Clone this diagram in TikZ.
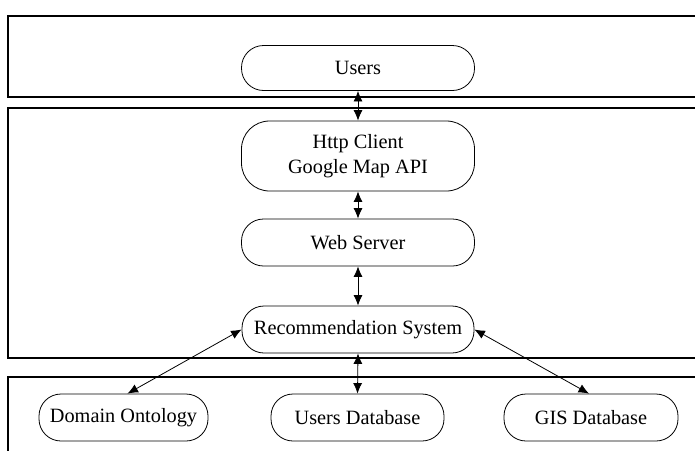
\documentclass[tikz,border=0pt]{standalone}
\usepackage{fontspec}
\setmainfont{Liberation Serif}
\usetikzlibrary{arrows.meta}
\begin{document}
\begin{tikzpicture}[x=1pt,y=-1pt,
  layer/.style={draw=black,line width=1.2pt},
  comp/.style={draw=black,line width=0.8pt,rounded corners=22pt,minimum width=233pt,minimum height=47pt,inner sep=0pt,align=center,font=\fontsize{20.3}{25}\selectfont},
  link/.style={line width=0.8pt,{Latex[length=10.5pt,width=9pt]}-{Latex[length=10.5pt,width=9pt]}}]
\useasboundingbox (0,0) rectangle (695,450);
\clip (0,0) rectangle (695,450);
\draw[layer] (8,16) rectangle (720,97);
\draw[layer] (8,108) rectangle (720,358);
\draw[layer] (8,377) rectangle (720,480);
\node[comp,minimum height=45pt] (users) at (358,68) {Users};
\node[comp,minimum height=70pt,rounded corners=28pt] (http) at (358,156) {Http Client\\Google Map API};
\node[comp] (web) at (358,242.5) {Web Server};
\node[comp,minimum width=232pt] (rec) at (358,329.5) {Recommendation System};
\node[comp,minimum width=169pt] (dom) at (123.5,417.5) {Domain Ontology};
\node[comp,minimum width=173pt] (udb) at (357.5,417.5) {Users Database};
\node[comp,minimum width=174pt] (gis) at (591,417.5) {GIS Database};
\draw[link] (users.south) -- (http.north);
\draw[link] (http.south) -- (web.north);
\draw[link] (web.south) -- (rec.north);
\draw[link] (rec.south) -- (udb.north);
\draw[link] (rec.west) -- ([xshift=4pt]dom.north);
\draw[link] (rec.east) -- ([xshift=-2pt]gis.north);
\end{tikzpicture}
\end{document}
